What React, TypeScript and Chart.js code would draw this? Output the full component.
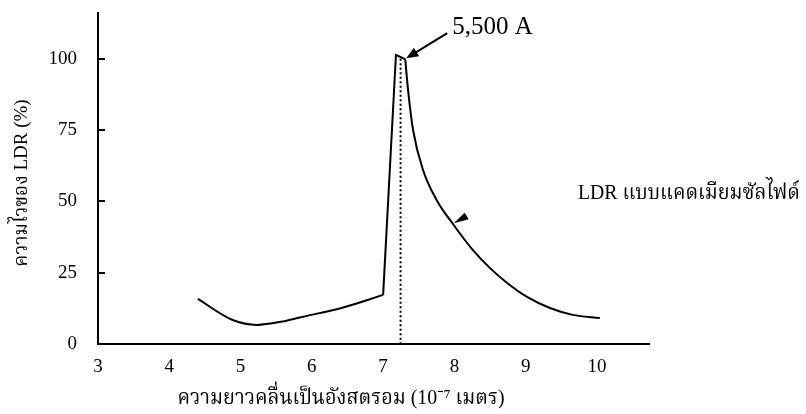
import React, { useEffect, useRef } from "react";
import { Chart, registerables } from "chart.js";

Chart.register(...registerables);

// ---- data ----
const riseX = [4.4, 4.89, 5.23, 5.59, 5.83, 6.44, 7.0];
const riseY = [15.8, 8.4, 6.7, 7.9, 9.3, 12.8, 17.2];

const spikeX = [7.0, 7.18, 7.31];
const spikeY = [17.2, 101.3, 99.8];

const decayX = [7.31, 7.35, 7.42, 7.56, 7.75, 7.99, 8.26, 8.5, 8.74, 9.02, 9.34, 9.66, 10.04];
const decayY = [99.8, 89, 75, 61, 50.5, 41.7, 32.9, 26.6, 21.4, 16.5, 12.6, 10.2, 9.1];

const xTicks = [3, 4, 5, 6, 7, 8, 9, 10];
const yTicks = [0, 25, 50, 75, 100];

const peakWavelength = 7.245; // dotted marker
const peakLabel = "5,500 A";
const curveLabel = "LDR แบบแคดเมียมซัลไฟด์";
const curveLabelAnchor = { x: 7.99, y: 42.3 };
const xTitle = "ความยาวคลื่นเป็นอังสตรอม (10⁻⁷ เมตร)";
const yTitle = "ความไวของ LDR (%)";

const FONT = '"Liberation Serif", "Times New Roman", "Noto Serif Thai", "Noto Sans Thai", serif';

const toPts = (xs: number[], ys: number[]) => xs.map((x, i) => ({ x, y: ys[i] }));

// draw text at a given font size, squeezing horizontally to a max width
function drawFitted(
  ctx: CanvasRenderingContext2D,
  text: string,
  x: number,
  y: number,
  size: number,
  maxW: number,
  rotate = 0
) {
  ctx.save();
  ctx.font = `${size}px ${FONT}`;
  const w = ctx.measureText(text).width;
  const sx = Math.min(1, maxW / w);
  ctx.translate(x, y);
  if (rotate) ctx.rotate(rotate);
  ctx.scale(sx, 1);
  ctx.fillText(text, 0, 0);
  ctx.restore();
}

export default function App() {
  const ref = useRef<HTMLCanvasElement | null>(null);

  useEffect(() => {
    if (!ref.current) return;

    const annot = {
      id: "annot",
      afterDraw(chart: any) {
        const { ctx, scales } = chart;
        const xs = scales.x;
        const ys = scales.y;
        ctx.save();
        // inward y ticks
        ctx.strokeStyle = "#000";
        ctx.lineWidth = 2;
        ctx.setLineDash([]);
        const left = chart.chartArea.left;
        yTicks.forEach((t) => {
          if (t === 0) return;
          const py = Math.round(ys.getPixelForValue(t));
          ctx.beginPath();
          ctx.moveTo(left, py);
          ctx.lineTo(left + 7, py);
          ctx.stroke();
        });
        // dotted line at peak
        const dx = xs.getPixelForValue(peakWavelength);
        ctx.setLineDash([2, 2.5]);
        ctx.lineWidth = 2;
        ctx.beginPath();
        ctx.moveTo(dx, ys.getPixelForValue(100));
        ctx.lineTo(dx, ys.getPixelForValue(0));
        ctx.stroke();
        ctx.setLineDash([]);

        // peak arrow
        const tipX = xs.getPixelForValue(spikeX[2]) + 1;
        const tipY = ys.getPixelForValue(spikeY[2]) - 1;
        const tailX = tipX + 41;
        const tailY = tipY - 25;
        const ang = Math.atan2(tipY - tailY, tipX - tailX);
        ctx.lineWidth = 2;
        ctx.beginPath();
        ctx.moveTo(tailX, tailY);
        ctx.lineTo(tipX - 8 * Math.cos(ang), tipY - 8 * Math.sin(ang));
        ctx.stroke();
        ctx.fillStyle = "#000";
        ctx.beginPath();
        ctx.moveTo(tipX, tipY);
        ctx.lineTo(tipX - 12 * Math.cos(ang) + 5 * Math.sin(ang), tipY - 12 * Math.sin(ang) - 5 * Math.cos(ang));
        ctx.lineTo(tipX - 12 * Math.cos(ang) - 5 * Math.sin(ang), tipY - 12 * Math.sin(ang) + 5 * Math.cos(ang));
        ctx.closePath();
        ctx.fill();

        ctx.font = `25px ${FONT}`;
        ctx.textAlign = "left";
        ctx.textBaseline = "alphabetic";
        ctx.fillText(peakLabel, tailX + 5, tailY + 1);

        // curve label + small marker
        const ax = xs.getPixelForValue(curveLabelAnchor.x);
        const ay = ys.getPixelForValue(curveLabelAnchor.y);
        ctx.beginPath();
        ctx.moveTo(ax, ay);
        ctx.lineTo(ax + 11, ay - 10.6);
        ctx.lineTo(ax + 15, ay - 4);
        ctx.closePath();
        ctx.fill();
        ctx.textAlign = "left";
        drawFitted(ctx, curveLabel, 578, 199, 22, 222);

        // axis titles
        ctx.textAlign = "center";
        ctx.textBaseline = "middle";
        drawFitted(ctx, xTitle, 341, 398, 21, 327);
        drawFitted(ctx, yTitle, 22, 183, 19, 176, -Math.PI / 2);
        ctx.restore();
      },
    };

    const lineStyle = {
      borderColor: "#000",
      borderWidth: 2,
      pointRadius: 0,
      fill: false,
    };

    const chart = new Chart(ref.current, {
      type: "line",
      data: {
        datasets: [
          { ...lineStyle, data: toPts(riseX, riseY), cubicInterpolationMode: "monotone" },
          { ...lineStyle, data: toPts(spikeX, spikeY), tension: 0 },
          { ...lineStyle, data: toPts(decayX, decayY), cubicInterpolationMode: "monotone" },
        ] as any,
      },
      options: {
        animation: false,
        responsive: false,
        maintainAspectRatio: false,
        layout: { padding: { left: 0, right: 157, top: 13, bottom: 0 } },
        plugins: { legend: { display: false }, tooltip: { enabled: false }, title: { display: false } },
        scales: {
          x: {
            type: "linear",
            min: 3,
            max: 10.73,
            afterBuildTicks: (s: any) => {
              s.ticks = xTicks.map((v) => ({ value: v }));
            },
            afterFit: (s: any) => {
              s.height = 70;
              s.paddingLeft = 0;
              s.paddingRight = 0;
            },
            grid: { display: false, drawTicks: false },
            border: { display: true, color: "#000", width: 2 },
            ticks: {
              color: "#000",
              font: { family: FONT, size: 19 },
              padding: 12,
              maxRotation: 0,
              autoSkip: false,
            },
          },
          y: {
            type: "linear",
            min: 0,
            max: 116,
            afterBuildTicks: (s: any) => {
              s.ticks = yTicks.map((v) => ({ value: v }));
            },
            afterFit: (s: any) => {
              s.width = 98;
              s.paddingTop = 0;
              s.paddingBottom = 0;
            },
            grid: { display: false, drawTicks: false },
            border: { display: true, color: "#000", width: 2 },
            ticks: {
              color: "#000",
              font: { family: FONT, size: 19 },
              padding: 21,
            },
          },
        },
      },
      plugins: [annot],
    } as any);

    return () => chart.destroy();
  }, []);

  return (
    <div style={{ position: "absolute", left: 0, top: 0, width: 806, height: 414, background: "#fff" }}>
      <canvas ref={ref} width={806} height={414} style={{ display: "block", width: 806, height: 414 }} />
    </div>
  );
}
